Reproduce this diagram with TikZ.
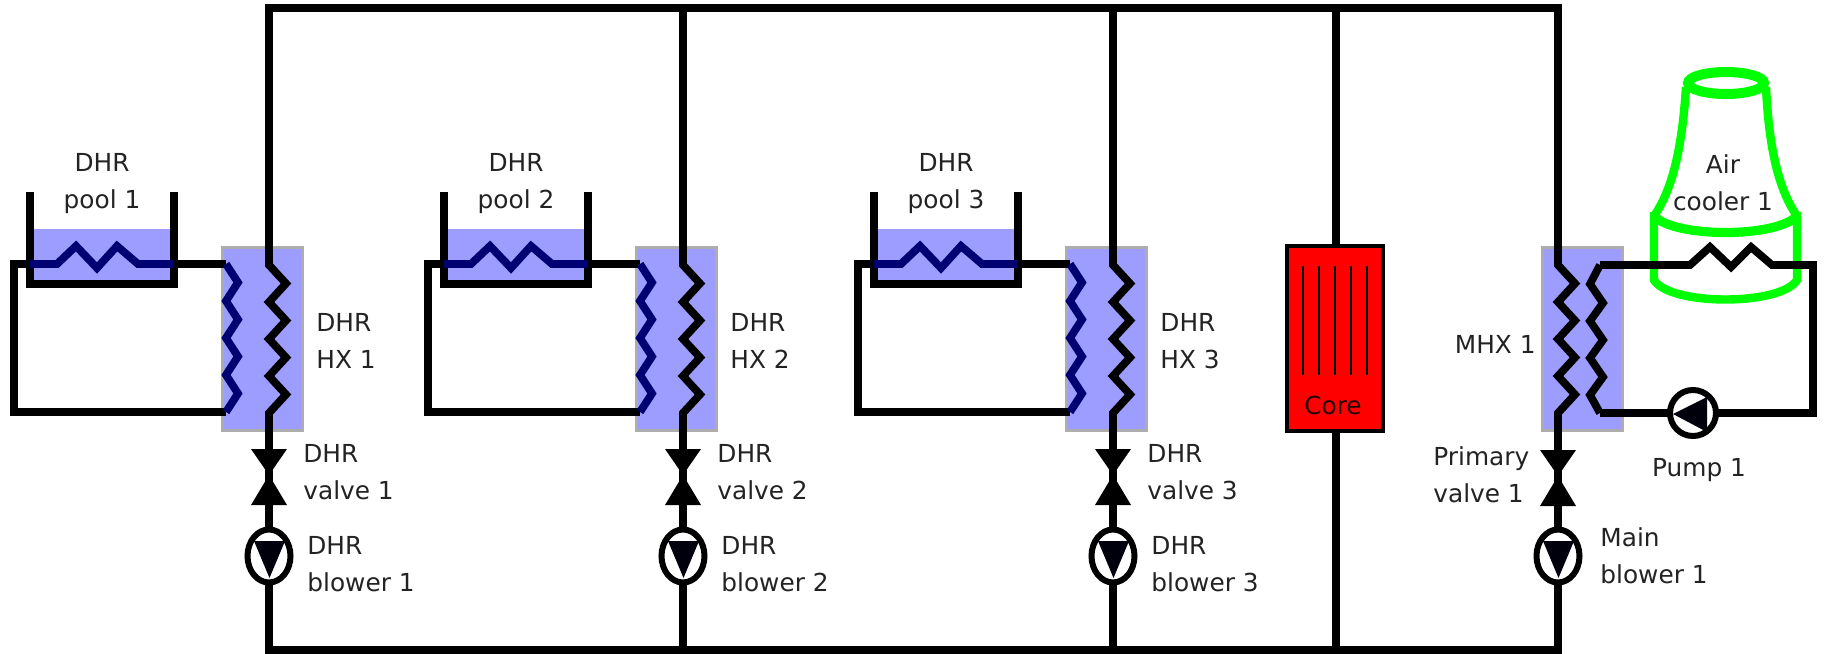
\documentclass[tikz,border=0pt]{standalone}
\usepackage{fontspec}
\setmainfont{DejaVu Sans}
\usepackage{xcolor}
\usetikzlibrary{shapes,arrows.meta}
\definecolor{hxblue}{RGB}{157,157,255}
\definecolor{coilblue}{RGB}{0,0,115}
\definecolor{textgray}{RGB}{35,35,35}
\def\zigprim{-- ++(17,18.5) -- ++(-17,18.5) -- ++(17,18.5) -- ++(-17,18.5) -- ++(17,18.5) -- ++(-17,18.5) -- ++(17,18.5) -- ++(-17,18.5)}
\def\zigsec{-- ++(12,18.5) -- ++(-12,18.5) -- ++(12,18.5) -- ++(-12,18.5) -- ++(12,18.5) -- ++(-12,18.5) -- ++(12,18.5) -- ++(-12,18.5)}
\tikzset{
pipe/.style={line width=3.9pt,line join=miter},
coil/.style={pipe,coilblue},
hxbox/.style={rectangle,draw=black!32,line width=1.5pt,fill=hxblue,inner sep=0pt,outer sep=0pt,minimum width=40pt,minimum height=91.5pt},
water/.style={rectangle,fill=hxblue,inner sep=0pt,outer sep=0pt,minimum width=72pt,minimum height=27.5pt},
blowernode/.style={ellipse,draw,line width=3pt,fill=white,inner sep=0pt,outer sep=0pt,minimum width=21.5pt,minimum height=26.5pt},
pumpnode/.style={circle,draw,line width=3pt,fill=white,inner sep=0pt,outer sep=0pt,minimum size=23pt},
lab/.style={font=\fontsize{12.4}{18.5}\selectfont,text=textgray,align=left,inner sep=0pt},
green cooler/.style={green,line width=4.2pt}
}
\begin{document}
\begin{tikzpicture}[x=0.5pt,y=-0.5pt,=>stealth]
\useasboundingbox (0,0) rectangle (1828,654);
\coordinate (tl) at (269,8);
\coordinate (tr) at (1558,8);
\coordinate (bl) at (269,650);
\coordinate (br) at (1558,650);
\draw[pipe,line cap=rect] (tl)--(tr);
\draw[pipe,line cap=rect] (bl)--(br);
\foreach \i/\dx in {1/0,2/414,3/844}{
\begin{scope}[xshift=\dx*0.5pt]
\node[water] (pool\i) at (102,256.5) {};
\node[hxbox] (hx\i) at (262,338.5) {};
\coordinate (hxtop\i) at (269,265);
\coordinate (hxbot\i) at (269,413);
\coordinate (loopa\i) at (226,264);
\coordinate (loopb\i) at (226,412);
\coordinate (coila\i) at (30,264);
\coordinate (coilb\i) at (174,264);
\coordinate (valve\i) at (269,475);
\coordinate (bust\i) at (269,8);
\coordinate (busb\i) at (269,650);
\node[blowernode] (blower\i) at (269,556) {};
\draw[pipe] (bust\i)--(hxtop\i) \zigprim -- (hxbot\i)--(blower\i.north);
\draw[pipe] (blower\i.south)--(busb\i);
\draw[pipe] (loopa\i)--(coilb\i);
\draw[pipe] (coila\i)--(14,264)--(14,412)--(loopb\i);
\draw[pipe] (30,192)--(30,284)--(174,284)--(174,192);
\draw[coil] (coila\i)--(57,264)--(76,246)--(97,268)--(117,246)--(138,264)--(coilb\i);
\draw[coil] (loopa\i) \zigsec;
\fill (valve\i)--++(-18,-26)--++(36,0)--cycle;
\fill (valve\i)--++(-18,30)--++(36,0)--cycle;
\fill[black!95!blue] (254,541)--(285,541)--(269.5,578)--cycle;
\node[lab,align=center] (poollabel\i) at (102,184) {DHR\\pool \i};
\node[lab,anchor=west] (hxlabel\i) at (316,341) {DHR\\HX \i};
\node[lab,anchor=west] (valvelabel\i) at (303,472) {DHR\\valve \i};
\node[lab,anchor=west] (blowerlabel\i) at (307,564) {DHR\\blower \i};
\end{scope}
}
\node[rectangle,draw,line width=2pt,fill=red,inner sep=0pt,outer sep=0pt,minimum width=48pt,minimum height=92.5pt] (core) at (1335,338.5) {};
\coordinate (corebt) at (1336,8);
\coordinate (corebb) at (1336,650);
\draw[pipe] (corebt)--(core.north-|corebt);
\draw[pipe] (core.south-|corebb)--(corebb);
\foreach \x in {1303,1319,1335,1351,1367}
\draw[line width=1.2pt] (\x,266)--(\x,375);
\node[lab,text=black!85!red] (corelabel) at (1333,405) {Core};
% air cooler
\draw[green cooler] (1654,216)..controls (1672,190) and (1682,150) .. (1686,87);
\draw[green cooler] (1797,216)..controls (1779,190) and (1769,150) .. (1766,87);
\draw[green cooler,line width=5pt] (1726,83) ellipse [x radius=38,y radius=11];
\draw[green cooler] (1654,212)--(1654,280)..controls (1670,306) and (1781,306) .. (1797,280)--(1797,212);
\draw[green cooler,line width=4.6pt] (1654,216)..controls (1675,238) and (1776,238) .. (1797,216);
\node[lab,align=center] (coolerlabel) at (1723,183) {Air\\cooler 1};
\node[hxbox] (mhx) at (1582,339) {};
\coordinate (mhxt) at (1558,265);
\coordinate (mhxb) at (1558,413);
\coordinate (seca) at (1600,265);
\coordinate (secb) at (1600,413);
\coordinate (valvem) at (1558,476);
\node[blowernode] (mainblower) at (1558,556) {};
\node[pumpnode] (pump) at (1693,413) {};
\draw[pipe] (tr)--(mhxt) \zigprim --(mhxb)--(mainblower.north);
\draw[pipe] (mainblower.south)--(br);
\draw[pipe] (secb)--(1590,395)--(1603,377)--(1590,358)--(1603,340)--(1590,321)--(1603,303)--(1590,284)--(seca);
\draw[pipe] (seca)--(1690,265)--(1710,247)--(1731,267)--(1751,247)--(1772,265)--(1813,265)--(1813,413)--(pump.east);
\draw[pipe] (secb)--(pump.west);
\fill[black!95!blue] (1673,414)--(1707,397)--(1707,432)--cycle;
\fill (valvem)--++(-18,-26)--++(36,0)--cycle;
\fill (valvem)--++(-18,30)--++(36,0)--cycle;
\fill[black!95!blue] (1543,541)--(1574,541)--(1558.5,578)--cycle;
\node[lab,anchor=east] (mhxlabel) at (1536,344) {MHX 1};
\node[lab,anchor=west] (primlabel) at (1433,475) {Primary\\valve 1};
\node[lab] (pumplabel) at (1699,470) {Pump 1};
\node[lab,anchor=west] (mainlabel) at (1600,556) {Main\\blower 1};
\end{tikzpicture}
\end{document}
